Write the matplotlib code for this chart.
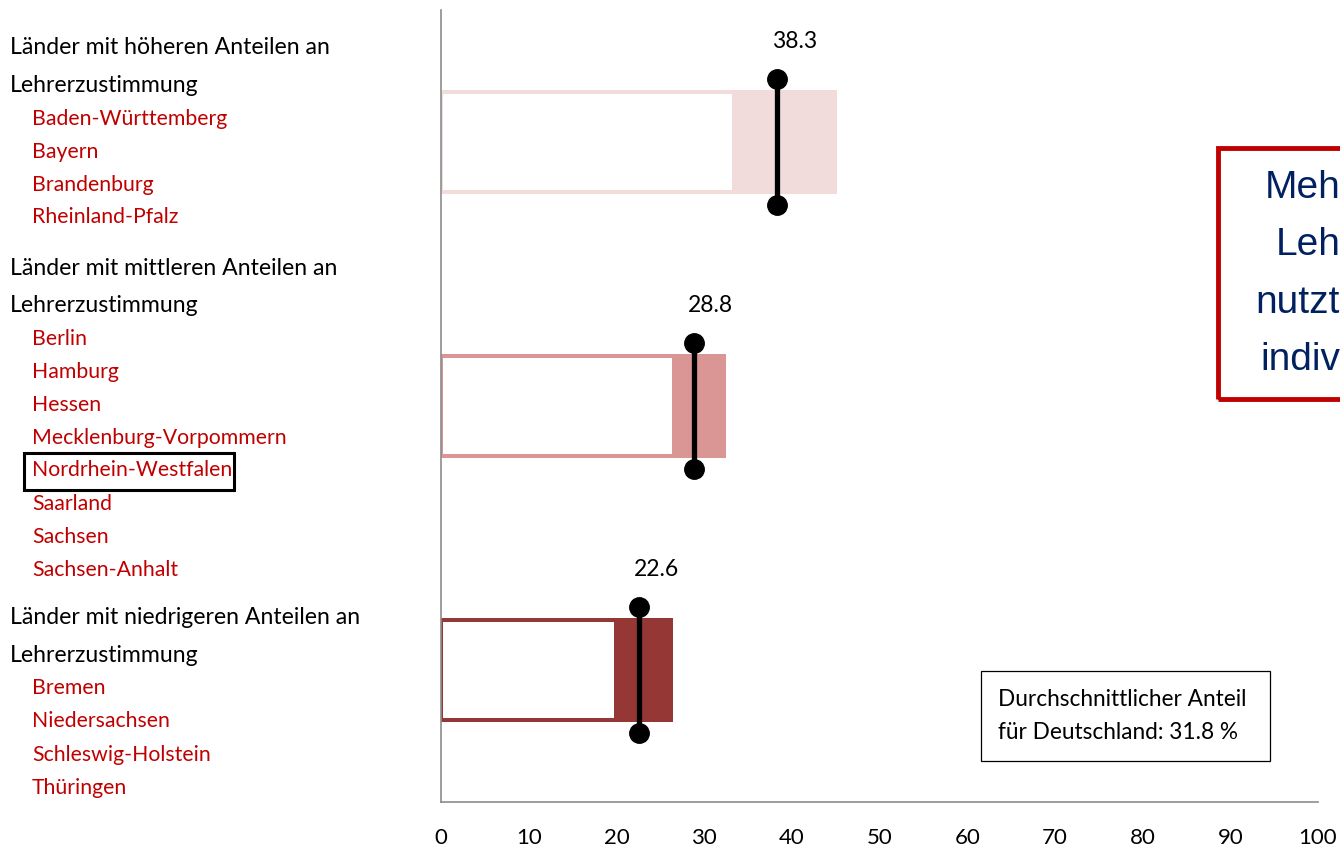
import matplotlib
matplotlib.use('Agg')
import matplotlib.pyplot as plt
from matplotlib.patches import Rectangle

plt.rcParams['font.family'] = ['Lato', 'DejaVu Sans']

# Data (rows from top to bottom)
headings = ['Länder mit höheren Anteilen an\nLehrerzustimmung',
            'Länder mit mittleren Anteilen an\nLehrerzustimmung',
            'Länder mit niedrigeren Anteilen an\nLehrerzustimmung']
states = [['Baden-Württemberg', 'Bayern', 'Brandenburg', 'Rheinland-Pfalz'],
          ['Berlin', 'Hamburg', 'Hessen', 'Mecklenburg-Vorpommern',
           'Nordrhein-Westfalen', 'Saarland', 'Sachsen', 'Sachsen-Anhalt'],
          ['Bremen', 'Niedersachsen', 'Schleswig-Holstein', 'Thüringen']]
outer_vals = [45.2, 32.5, 26.5]
inner_vals = [33.2, 26.3, 19.7]
mean_vals = [38.3, 28.8, 22.6]
bar_colors = ['#F2DCDB', '#D99694', '#953735']
avg_text = 'Durchschnittlicher Anteil\nfür Deutschland: 31.8 %'

W, H = 1340, 847
fig = plt.figure(figsize=(W / 100, H / 100), dpi=100)


def fx(x):
    return x / W


def fy(y):
    return 1 - y / H


ax = fig.add_axes([fx(441), fy(802), fx(1318) - fx(441), fy(10) - fy(802)])

ypos = [2, 1, 0]
for y, o, i, m, c in zip(ypos, outer_vals, inner_vals, mean_vals, bar_colors):
    ax.barh(y, o, height=0.396, color=c, zorder=2)
    ax.barh(y, i - 0.2, left=0.2, height=0.362, color='white', zorder=3)
    ax.plot([m, m], [y - 0.24, y + 0.24], color='black', lw=3.8,
            marker='o', markersize=14, zorder=4)
    ax.text(m - 0.6, y + 0.38, f'{m:.1f}', ha='left', va='center',
            fontsize=16.5, color='black')

ax.set_xlim(0, 100)
ax.set_ylim(-0.5, 2.5)
ax.set_xticks(range(0, 101, 10))
ax.set_yticks([])
ax.tick_params(axis='x', length=0, pad=19, labelsize=16)
for s in ['top', 'right']:
    ax.spines[s].set_visible(False)
for s in ['left', 'bottom']:
    ax.spines[s].set_color('#8c8c8c')
    ax.spines[s].set_linewidth(1.2)

# left label column
head_y = [48, 268, 618]
state_y = [[119, 152, 185, 217],
           [339, 372, 405, 438, 470, 504, 537, 570],
           [688, 721, 755, 788]]
for h, hy, sts, sys in zip(headings, head_y, states, state_y):
    l1, l2 = h.split('\n')
    fig.text(fx(10), fy(hy), l1, ha='left', va='center', fontsize=16.6, color='black')
    fig.text(fx(10), fy(hy + 37), l2, ha='left', va='center', fontsize=16.6, color='black')
    for s, sy in zip(sts, sys):
        fig.text(fx(32), fy(sy), s, ha='left', va='center', fontsize=15.3, color='#C00000')

# highlight box around NRW
fig.patches.append(Rectangle((fx(24), fy(490)), fx(234) - fx(24), fy(453) - fy(490),
                             transform=fig.transFigure, fill=False,
                             edgecolor='black', lw=2.2))

# average box
fig.patches.append(Rectangle((fx(981), fy(761)), fx(1270) - fx(981), fy(671) - fy(761),
                             transform=fig.transFigure, fill=False,
                             edgecolor='black', lw=0.9))
fig.text(fx(998), fy(716), avg_text, ha='left', va='center', fontsize=16.3,
         linespacing=1.75, color='black')

# callout box cut off at the right edge (only the visible part of its text)
fig.patches.append(Rectangle((fx(1218), fy(399)), fx(1360) - fx(1218), fy(148) - fy(399),
                             transform=fig.transFigure, fill=False,
                             edgecolor='#C00000', lw=3.5))
for word, wx, wy in [('Meh', 1265, 188), ('Leh', 1276, 245),
                     ('nutzt', 1255, 303), ('indiv', 1260, 360)]:
    fig.text(fx(wx), fy(wy), word, ha='left', va='center', fontsize=28,
             color='#002060', family='Liberation Sans')

fig.savefig('out.png', dpi=100)
